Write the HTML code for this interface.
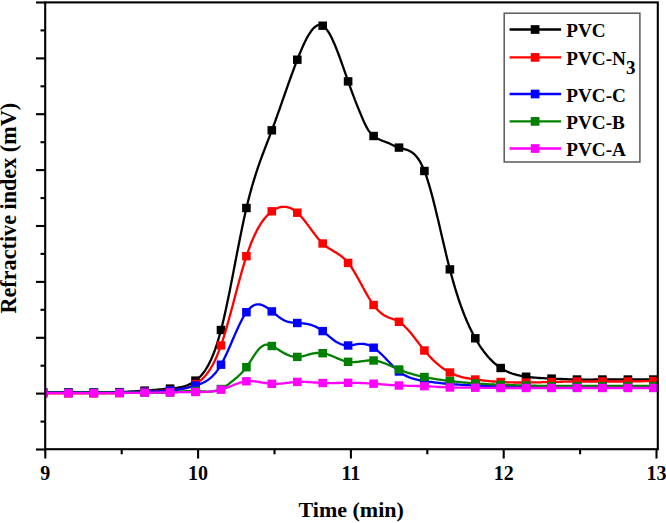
<!DOCTYPE html>
<html><head><meta charset="utf-8"><style>
html,body{margin:0;padding:0;background:#fff;}
body{width:666px;height:523px;overflow:hidden;}
svg{display:block;}
text{font-family:"Liberation Serif",serif;font-weight:bold;fill:#000;}
.tk{font-size:20px;}
.lg{font-size:19.2px;}
.ax{font-size:22px;}
.ay{font-size:22.2px;}
</style></head><body>
<svg width="666" height="523" viewBox="0 0 666 523">
<defs><clipPath id="pc"><rect x="45.2" y="2.4" width="612.5999999999999" height="446.8"/></clipPath></defs>
<g clip-path="url(#pc)">
<polyline points="43.0,392.4 44.0,392.4 45.0,392.4 46.0,392.4 47.0,392.4 48.0,392.4 49.0,392.4 50.0,392.4 51.0,392.4 52.0,392.4 53.0,392.4 54.0,392.4 55.0,392.4 56.0,392.4 57.0,392.4 58.0,392.4 59.0,392.4 60.0,392.4 61.0,392.4 62.0,392.4 63.0,392.4 64.0,392.4 65.0,392.4 66.0,392.4 67.0,392.4 68.0,392.4 69.0,392.4 70.0,392.4 71.0,392.4 72.0,392.4 73.0,392.4 74.0,392.4 75.0,392.4 76.0,392.4 77.0,392.4 78.0,392.4 79.0,392.4 80.0,392.4 81.0,392.4 82.0,392.4 83.0,392.4 84.0,392.4 85.0,392.4 86.0,392.4 87.0,392.4 88.0,392.4 89.0,392.4 90.0,392.4 91.0,392.4 92.0,392.4 93.0,392.4 94.0,392.4 95.0,392.4 96.0,392.4 97.0,392.4 98.0,392.4 99.0,392.4 100.0,392.4 101.0,392.4 102.0,392.4 103.0,392.4 104.0,392.4 105.0,392.4 106.0,392.4 107.0,392.4 108.0,392.3 109.0,392.3 110.0,392.3 111.0,392.3 112.0,392.3 113.0,392.3 114.0,392.2 115.0,392.2 116.0,392.2 117.0,392.2 118.0,392.1 119.0,392.1 120.0,392.1 121.0,392.0 122.0,392.0 123.0,392.0 124.0,391.9 125.0,391.9 126.0,391.8 127.0,391.8 128.0,391.7 129.0,391.6 130.0,391.6 131.0,391.5 132.0,391.5 133.0,391.4 134.0,391.3 135.0,391.3 136.0,391.2 137.0,391.1 138.0,391.1 139.0,391.0 140.0,390.9 141.0,390.9 142.0,390.8 143.0,390.7 144.0,390.7 145.0,390.6 146.0,390.5 147.0,390.4 148.0,390.4 149.0,390.3 150.0,390.2 151.0,390.1 152.0,390.1 153.0,390.0 154.0,389.9 155.0,389.8 156.0,389.8 157.0,389.7 158.0,389.6 159.0,389.5 160.0,389.5 161.0,389.4 162.0,389.3 163.0,389.2 164.0,389.1 165.0,389.0 166.0,389.0 167.0,388.9 168.0,388.8 169.0,388.7 170.0,388.6 171.0,388.5 172.0,388.4 173.0,388.3 174.0,388.2 175.0,388.1 176.0,388.0 177.0,387.8 178.0,387.7 179.0,387.5 180.0,387.3 181.0,387.1 182.0,386.9 183.0,386.6 184.0,386.4 185.0,386.1 186.0,385.7 187.0,385.4 188.0,385.0 189.0,384.5 190.0,384.0 191.0,383.5 192.0,383.0 193.0,382.4 194.0,381.7 195.0,381.0 196.0,380.3 197.0,379.5 198.0,378.6 199.0,377.7 200.0,376.7 201.0,375.7 202.0,374.5 203.0,373.3 204.0,372.0 205.0,370.6 206.0,369.0 207.0,367.4 208.0,365.7 209.0,363.8 210.0,361.8 211.0,359.7 212.0,357.4 213.0,355.0 214.0,352.5 215.0,349.8 216.0,346.9 217.0,343.9 218.0,340.7 219.0,337.3 220.0,333.8 221.0,330.0 222.0,326.1 223.0,322.0 224.0,317.7 225.0,313.3 226.0,308.7 227.0,304.0 228.0,299.2 229.0,294.4 230.0,289.4 231.0,284.3 232.0,279.2 233.0,274.1 234.0,268.9 235.0,263.7 236.0,258.6 237.0,253.4 238.0,248.3 239.0,243.2 240.0,238.1 241.0,233.2 242.0,228.3 243.0,223.5 244.0,218.8 245.0,214.3 246.0,209.9 247.0,205.6 248.0,201.5 249.0,197.6 250.0,193.8 251.0,190.1 252.0,186.5 253.0,183.1 254.0,179.8 255.0,176.6 256.0,173.4 257.0,170.4 258.0,167.4 259.0,164.5 260.0,161.7 261.0,158.9 262.0,156.2 263.0,153.5 264.0,150.9 265.0,148.2 266.0,145.6 267.0,143.0 268.0,140.4 269.0,137.8 270.0,135.2 271.0,132.6 272.0,130.0 273.0,127.3 274.0,124.5 275.0,121.8 276.0,119.0 277.0,116.2 278.0,113.4 279.0,110.6 280.0,107.8 281.0,104.9 282.0,102.0 283.0,99.2 284.0,96.3 285.0,93.5 286.0,90.6 287.0,87.8 288.0,84.9 289.0,82.1 290.0,79.3 291.0,76.5 292.0,73.8 293.0,71.1 294.0,68.4 295.0,65.7 296.0,63.1 297.0,60.5 298.0,57.9 299.0,55.4 300.0,53.0 301.0,50.6 302.0,48.2 303.0,46.0 304.0,43.8 305.0,41.7 306.0,39.7 307.0,37.8 308.0,36.0 309.0,34.3 310.0,32.8 311.0,31.3 312.0,30.0 313.0,28.8 314.0,27.8 315.0,26.9 316.0,26.2 317.0,25.6 318.0,25.2 319.0,24.9 320.0,24.9 321.0,25.0 322.0,25.3 323.0,25.9 324.0,26.6 325.0,27.5 326.0,28.6 327.0,29.9 328.0,31.3 329.0,32.9 330.0,34.6 331.0,36.5 332.0,38.5 333.0,40.7 334.0,42.9 335.0,45.3 336.0,47.7 337.0,50.2 338.0,52.8 339.0,55.5 340.0,58.2 341.0,61.0 342.0,63.8 343.0,66.6 344.0,69.5 345.0,72.3 346.0,75.2 347.0,78.1 348.0,80.9 349.0,83.8 350.0,86.6 351.0,89.4 352.0,92.1 353.0,94.8 354.0,97.4 355.0,100.1 356.0,102.6 357.0,105.1 358.0,107.6 359.0,110.1 360.0,112.5 361.0,114.9 362.0,117.3 363.0,119.6 364.0,121.9 365.0,124.0 366.0,126.0 367.0,127.9 368.0,129.6 369.0,131.1 370.0,132.4 371.0,133.5 372.0,134.6 373.0,135.5 374.0,136.3 375.0,137.1 376.0,137.7 377.0,138.3 378.0,138.9 379.0,139.3 380.0,139.8 381.0,140.2 382.0,140.6 383.0,141.0 384.0,141.3 385.0,141.7 386.0,142.1 387.0,142.5 388.0,142.9 389.0,143.3 390.0,143.8 391.0,144.3 392.0,144.7 393.0,145.2 394.0,145.6 395.0,146.1 396.0,146.5 397.0,146.9 398.0,147.2 399.0,147.6 400.0,147.9 401.0,148.2 402.0,148.5 403.0,148.7 404.0,149.0 405.0,149.3 406.0,149.6 407.0,149.9 408.0,150.3 409.0,150.7 410.0,151.2 411.0,151.8 412.0,152.4 413.0,153.2 414.0,154.0 415.0,154.9 416.0,156.0 417.0,157.2 418.0,158.5 419.0,160.0 420.0,161.6 421.0,163.4 422.0,165.4 423.0,167.5 424.0,169.9 425.0,172.4 426.0,175.2 427.0,178.1 428.0,181.3 429.0,184.6 430.0,188.0 431.0,191.6 432.0,195.3 433.0,199.1 434.0,203.1 435.0,207.1 436.0,211.2 437.0,215.4 438.0,219.6 439.0,223.8 440.0,228.1 441.0,232.4 442.0,236.7 443.0,241.0 444.0,245.3 445.0,249.6 446.0,253.8 447.0,257.9 448.0,262.0 449.0,266.0 450.0,269.9 451.0,273.6 452.0,277.3 453.0,280.9 454.0,284.4 455.0,287.8 456.0,291.1 457.0,294.2 458.0,297.3 459.0,300.3 460.0,303.3 461.0,306.1 462.0,308.8 463.0,311.5 464.0,314.1 465.0,316.6 466.0,319.0 467.0,321.4 468.0,323.6 469.0,325.9 470.0,328.0 471.0,330.1 472.0,332.1 473.0,334.0 474.0,335.9 475.0,337.7 476.0,339.5 477.0,341.2 478.0,342.9 479.0,344.5 480.0,346.1 481.0,347.6 482.0,349.0 483.0,350.4 484.0,351.8 485.0,353.1 486.0,354.3 487.0,355.5 488.0,356.7 489.0,357.8 490.0,358.9 491.0,359.9 492.0,360.9 493.0,361.9 494.0,362.8 495.0,363.7 496.0,364.5 497.0,365.3 498.0,366.1 499.0,366.8 500.0,367.5 501.0,368.2 502.0,368.8 503.0,369.4 504.0,370.0 505.0,370.5 506.0,371.0 507.0,371.5 508.0,371.9 509.0,372.4 510.0,372.8 511.0,373.1 512.0,373.5 513.0,373.8 514.0,374.2 515.0,374.4 516.0,374.7 517.0,375.0 518.0,375.2 519.0,375.4 520.0,375.7 521.0,375.9 522.0,376.0 523.0,376.2 524.0,376.4 525.0,376.5 526.0,376.7 527.0,376.8 528.0,376.9 529.0,377.1 530.0,377.2 531.0,377.3 532.0,377.4 533.0,377.5 534.0,377.6 535.0,377.7 536.0,377.7 537.0,377.8 538.0,377.9 539.0,378.0 540.0,378.0 541.0,378.1 542.0,378.1 543.0,378.2 544.0,378.2 545.0,378.3 546.0,378.3 547.0,378.4 548.0,378.4 549.0,378.5 550.0,378.5 551.0,378.6 552.0,378.6 553.0,378.7 554.0,378.7 555.0,378.7 556.0,378.8 557.0,378.8 558.0,378.9 559.0,378.9 560.0,379.0 561.0,379.0 562.0,379.0 563.0,379.1 564.0,379.1 565.0,379.2 566.0,379.2 567.0,379.2 568.0,379.3 569.0,379.3 570.0,379.3 571.0,379.4 572.0,379.4 573.0,379.4 574.0,379.4 575.0,379.5 576.0,379.5 577.0,379.5 578.0,379.5 579.0,379.5 580.0,379.5 581.0,379.5 582.0,379.6 583.0,379.6 584.0,379.6 585.0,379.6 586.0,379.6 587.0,379.6 588.0,379.6 589.0,379.6 590.0,379.6 591.0,379.6 592.0,379.6 593.0,379.6 594.0,379.5 595.0,379.5 596.0,379.5 597.0,379.5 598.0,379.5 599.0,379.5 600.0,379.5 601.0,379.5 602.0,379.5 603.0,379.5 604.0,379.5 605.0,379.5 606.0,379.5 607.0,379.5 608.0,379.5 609.0,379.5 610.0,379.5 611.0,379.5 612.0,379.5 613.0,379.5 614.0,379.5 615.0,379.5 616.0,379.5 617.0,379.5 618.0,379.5 619.0,379.5 620.0,379.5 621.0,379.5 622.0,379.5 623.0,379.5 624.0,379.5 625.0,379.5 626.0,379.5 627.0,379.5 628.0,379.5 629.0,379.5 630.0,379.5 631.0,379.5 632.0,379.5 633.0,379.5 634.0,379.5 635.0,379.5 636.0,379.5 637.0,379.5 638.0,379.5 639.0,379.5 640.0,379.5 641.0,379.5 642.0,379.5 643.0,379.5 644.0,379.5 645.0,379.5 646.0,379.5 647.0,379.5 648.0,379.5 649.0,379.5 650.0,379.5 651.0,379.5 652.0,379.5 653.0,379.5" fill="none" stroke="#000000" stroke-width="2.3" stroke-linejoin="round"/><g fill="#000000"><rect x="38.7" y="388.2" width="8.6" height="8.4"/><rect x="64.1" y="388.2" width="8.6" height="8.4"/><rect x="89.5" y="388.2" width="8.6" height="8.4"/><rect x="115.0" y="387.9" width="8.6" height="8.4"/><rect x="140.4" y="386.4" width="8.6" height="8.4"/><rect x="165.8" y="384.4" width="8.6" height="8.4"/><rect x="191.2" y="376.4" width="8.6" height="8.4"/><rect x="216.7" y="325.8" width="8.6" height="8.4"/><rect x="242.1" y="203.8" width="8.6" height="8.4"/><rect x="267.5" y="126.1" width="8.6" height="8.4"/><rect x="293.0" y="55.5" width="8.6" height="8.4"/><rect x="318.4" y="21.5" width="8.6" height="8.4"/><rect x="343.8" y="77.2" width="8.6" height="8.4"/><rect x="369.3" y="131.8" width="8.6" height="8.4"/><rect x="394.7" y="143.4" width="8.6" height="8.4"/><rect x="420.1" y="166.8" width="8.6" height="8.4"/><rect x="445.6" y="265.2" width="8.6" height="8.4"/><rect x="471.0" y="334.1" width="8.6" height="8.4"/><rect x="496.4" y="363.8" width="8.6" height="8.4"/><rect x="521.8" y="372.5" width="8.6" height="8.4"/><rect x="547.3" y="374.4" width="8.6" height="8.4"/><rect x="572.7" y="375.3" width="8.6" height="8.4"/><rect x="598.1" y="375.3" width="8.6" height="8.4"/><rect x="623.6" y="375.3" width="8.6" height="8.4"/><rect x="649.0" y="375.3" width="8.6" height="8.4"/></g><polyline points="43.0,393.4 44.0,393.4 45.0,393.4 46.0,393.4 47.0,393.4 48.0,393.4 49.0,393.4 50.0,393.4 51.0,393.4 52.0,393.4 53.0,393.4 54.0,393.4 55.0,393.4 56.0,393.4 57.0,393.4 58.0,393.4 59.0,393.4 60.0,393.4 61.0,393.4 62.0,393.4 63.0,393.4 64.0,393.4 65.0,393.4 66.0,393.4 67.0,393.4 68.0,393.4 69.0,393.4 70.0,393.4 71.0,393.4 72.0,393.4 73.0,393.4 74.0,393.4 75.0,393.4 76.0,393.4 77.0,393.4 78.0,393.4 79.0,393.4 80.0,393.4 81.0,393.4 82.0,393.4 83.0,393.4 84.0,393.4 85.0,393.4 86.0,393.4 87.0,393.4 88.0,393.4 89.0,393.4 90.0,393.4 91.0,393.4 92.0,393.4 93.0,393.4 94.0,393.4 95.0,393.4 96.0,393.4 97.0,393.4 98.0,393.4 99.0,393.4 100.0,393.4 101.0,393.4 102.0,393.4 103.0,393.4 104.0,393.4 105.0,393.4 106.0,393.4 107.0,393.4 108.0,393.4 109.0,393.4 110.0,393.4 111.0,393.3 112.0,393.3 113.0,393.3 114.0,393.3 115.0,393.2 116.0,393.2 117.0,393.2 118.0,393.2 119.0,393.1 120.0,393.1 121.0,393.0 122.0,393.0 123.0,392.9 124.0,392.9 125.0,392.8 126.0,392.7 127.0,392.7 128.0,392.6 129.0,392.6 130.0,392.5 131.0,392.4 132.0,392.3 133.0,392.3 134.0,392.2 135.0,392.1 136.0,392.1 137.0,392.0 138.0,391.9 139.0,391.9 140.0,391.8 141.0,391.7 142.0,391.7 143.0,391.6 144.0,391.5 145.0,391.5 146.0,391.4 147.0,391.4 148.0,391.3 149.0,391.3 150.0,391.2 151.0,391.2 152.0,391.1 153.0,391.1 154.0,391.0 155.0,391.0 156.0,391.0 157.0,390.9 158.0,390.9 159.0,390.8 160.0,390.8 161.0,390.8 162.0,390.7 163.0,390.7 164.0,390.6 165.0,390.6 166.0,390.5 167.0,390.5 168.0,390.4 169.0,390.4 170.0,390.3 171.0,390.2 172.0,390.2 173.0,390.1 174.0,390.0 175.0,390.0 176.0,389.9 177.0,389.8 178.0,389.7 179.0,389.5 180.0,389.4 181.0,389.2 182.0,389.0 183.0,388.8 184.0,388.6 185.0,388.4 186.0,388.1 187.0,387.8 188.0,387.5 189.0,387.1 190.0,386.7 191.0,386.3 192.0,385.9 193.0,385.4 194.0,384.9 195.0,384.3 196.0,383.7 197.0,383.1 198.0,382.4 199.0,381.7 200.0,380.9 201.0,380.1 202.0,379.2 203.0,378.2 204.0,377.2 205.0,376.1 206.0,374.9 207.0,373.6 208.0,372.3 209.0,370.9 210.0,369.3 211.0,367.7 212.0,366.0 213.0,364.2 214.0,362.3 215.0,360.2 216.0,358.1 217.0,355.8 218.0,353.4 219.0,350.9 220.0,348.2 221.0,345.4 222.0,342.5 223.0,339.5 224.0,336.3 225.0,333.0 226.0,329.6 227.0,326.2 228.0,322.6 229.0,319.0 230.0,315.4 231.0,311.7 232.0,307.9 233.0,304.2 234.0,300.4 235.0,296.6 236.0,292.8 237.0,289.1 238.0,285.3 239.0,281.6 240.0,278.0 241.0,274.4 242.0,270.8 243.0,267.4 244.0,264.0 245.0,260.7 246.0,257.6 247.0,254.5 248.0,251.6 249.0,248.8 250.0,246.1 251.0,243.5 252.0,241.0 253.0,238.7 254.0,236.4 255.0,234.3 256.0,232.2 257.0,230.3 258.0,228.4 259.0,226.7 260.0,225.0 261.0,223.4 262.0,221.9 263.0,220.5 264.0,219.2 265.0,217.9 266.0,216.8 267.0,215.7 268.0,214.6 269.0,213.7 270.0,212.8 271.0,212.0 272.0,211.2 273.0,210.5 274.0,209.9 275.0,209.3 276.0,208.7 277.0,208.3 278.0,207.9 279.0,207.5 280.0,207.2 281.0,207.0 282.0,206.9 283.0,206.8 284.0,206.8 285.0,206.8 286.0,206.9 287.0,207.1 288.0,207.3 289.0,207.6 290.0,208.0 291.0,208.4 292.0,208.9 293.0,209.5 294.0,210.1 295.0,210.8 296.0,211.6 297.0,212.4 298.0,213.3 299.0,214.3 300.0,215.4 301.0,216.5 302.0,217.6 303.0,218.8 304.0,220.0 305.0,221.3 306.0,222.6 307.0,223.9 308.0,225.2 309.0,226.6 310.0,227.9 311.0,229.3 312.0,230.6 313.0,232.0 314.0,233.3 315.0,234.6 316.0,235.9 317.0,237.2 318.0,238.4 319.0,239.6 320.0,240.7 321.0,241.8 322.0,242.8 323.0,243.8 324.0,244.7 325.0,245.5 326.0,246.3 327.0,247.0 328.0,247.7 329.0,248.4 330.0,249.0 331.0,249.6 332.0,250.2 333.0,250.8 334.0,251.4 335.0,252.0 336.0,252.6 337.0,253.2 338.0,253.9 339.0,254.5 340.0,255.2 341.0,256.0 342.0,256.7 343.0,257.6 344.0,258.5 345.0,259.4 346.0,260.4 347.0,261.5 348.0,262.7 349.0,264.0 350.0,265.3 351.0,266.7 352.0,268.2 353.0,269.8 354.0,271.4 355.0,273.1 356.0,274.8 357.0,276.6 358.0,278.3 359.0,280.1 360.0,282.0 361.0,283.8 362.0,285.6 363.0,287.5 364.0,289.3 365.0,291.1 366.0,292.9 367.0,294.6 368.0,296.3 369.0,298.0 370.0,299.7 371.0,301.2 372.0,302.7 373.0,304.2 374.0,305.6 375.0,306.8 376.0,308.1 377.0,309.2 378.0,310.3 379.0,311.2 380.0,312.2 381.0,313.0 382.0,313.8 383.0,314.5 384.0,315.2 385.0,315.8 386.0,316.3 387.0,316.8 388.0,317.3 389.0,317.7 390.0,318.0 391.0,318.4 392.0,318.7 393.0,319.1 394.0,319.4 395.0,319.8 396.0,320.2 397.0,320.7 398.0,321.2 399.0,321.8 400.0,322.4 401.0,323.2 402.0,323.9 403.0,324.8 404.0,325.7 405.0,326.7 406.0,327.7 407.0,328.7 408.0,329.8 409.0,331.0 410.0,332.1 411.0,333.3 412.0,334.6 413.0,335.8 414.0,337.1 415.0,338.4 416.0,339.7 417.0,341.0 418.0,342.3 419.0,343.6 420.0,344.9 421.0,346.2 422.0,347.5 423.0,348.7 424.0,350.0 425.0,351.2 426.0,352.3 427.0,353.5 428.0,354.6 429.0,355.7 430.0,356.8 431.0,357.9 432.0,358.9 433.0,359.9 434.0,360.8 435.0,361.8 436.0,362.7 437.0,363.6 438.0,364.4 439.0,365.2 440.0,366.1 441.0,366.8 442.0,367.6 443.0,368.3 444.0,369.0 445.0,369.6 446.0,370.3 447.0,370.9 448.0,371.5 449.0,372.0 450.0,372.6 451.0,373.1 452.0,373.5 453.0,374.0 454.0,374.4 455.0,374.8 456.0,375.2 457.0,375.6 458.0,375.9 459.0,376.2 460.0,376.5 461.0,376.8 462.0,377.1 463.0,377.3 464.0,377.5 465.0,377.8 466.0,378.0 467.0,378.2 468.0,378.4 469.0,378.5 470.0,378.7 471.0,378.9 472.0,379.0 473.0,379.2 474.0,379.3 475.0,379.5 476.0,379.6 477.0,379.7 478.0,379.9 479.0,380.0 480.0,380.1 481.0,380.2 482.0,380.4 483.0,380.5 484.0,380.6 485.0,380.7 486.0,380.8 487.0,380.9 488.0,381.0 489.0,381.1 490.0,381.2 491.0,381.3 492.0,381.4 493.0,381.5 494.0,381.5 495.0,381.6 496.0,381.7 497.0,381.8 498.0,381.8 499.0,381.9 500.0,382.0 501.0,382.0 502.0,382.1 503.0,382.1 504.0,382.2 505.0,382.2 506.0,382.2 507.0,382.3 508.0,382.3 509.0,382.3 510.0,382.4 511.0,382.4 512.0,382.4 513.0,382.4 514.0,382.5 515.0,382.5 516.0,382.5 517.0,382.5 518.0,382.5 519.0,382.5 520.0,382.5 521.0,382.5 522.0,382.5 523.0,382.5 524.0,382.5 525.0,382.5 526.0,382.5 527.0,382.5 528.0,382.5 529.0,382.5 530.0,382.5 531.0,382.4 532.0,382.4 533.0,382.4 534.0,382.4 535.0,382.4 536.0,382.4 537.0,382.3 538.0,382.3 539.0,382.3 540.0,382.3 541.0,382.3 542.0,382.2 543.0,382.2 544.0,382.2 545.0,382.2 546.0,382.1 547.0,382.1 548.0,382.1 549.0,382.1 550.0,382.0 551.0,382.0 552.0,382.0 553.0,382.0 554.0,381.9 555.0,381.9 556.0,381.9 557.0,381.9 558.0,381.8 559.0,381.8 560.0,381.8 561.0,381.8 562.0,381.8 563.0,381.7 564.0,381.7 565.0,381.7 566.0,381.7 567.0,381.6 568.0,381.6 569.0,381.6 570.0,381.6 571.0,381.6 572.0,381.6 573.0,381.5 574.0,381.5 575.0,381.5 576.0,381.5 577.0,381.5 578.0,381.5 579.0,381.5 580.0,381.5 581.0,381.5 582.0,381.5 583.0,381.5 584.0,381.5 585.0,381.5 586.0,381.5 587.0,381.5 588.0,381.5 589.0,381.5 590.0,381.5 591.0,381.5 592.0,381.5 593.0,381.5 594.0,381.5 595.0,381.5 596.0,381.5 597.0,381.5 598.0,381.5 599.0,381.5 600.0,381.5 601.0,381.5 602.0,381.5 603.0,381.5 604.0,381.5 605.0,381.5 606.0,381.5 607.0,381.5 608.0,381.5 609.0,381.5 610.0,381.5 611.0,381.5 612.0,381.5 613.0,381.5 614.0,381.5 615.0,381.5 616.0,381.5 617.0,381.5 618.0,381.5 619.0,381.5 620.0,381.5 621.0,381.5 622.0,381.5 623.0,381.5 624.0,381.5 625.0,381.5 626.0,381.5 627.0,381.5 628.0,381.5 629.0,381.5 630.0,381.5 631.0,381.5 632.0,381.5 633.0,381.4 634.0,381.4 635.0,381.4 636.0,381.4 637.0,381.4 638.0,381.3 639.0,381.3 640.0,381.3 641.0,381.3 642.0,381.3 643.0,381.2 644.0,381.2 645.0,381.2 646.0,381.2 647.0,381.2 648.0,381.1 649.0,381.1 650.0,381.1 651.0,381.1 652.0,381.0 653.0,381.0" fill="none" stroke="#ff0000" stroke-width="2.3" stroke-linejoin="round"/><g fill="#ff0000"><rect x="38.7" y="389.2" width="8.6" height="8.4"/><rect x="64.1" y="389.2" width="8.6" height="8.4"/><rect x="89.5" y="389.2" width="8.6" height="8.4"/><rect x="115.0" y="388.9" width="8.6" height="8.4"/><rect x="140.4" y="387.3" width="8.6" height="8.4"/><rect x="165.8" y="386.1" width="8.6" height="8.4"/><rect x="191.2" y="379.8" width="8.6" height="8.4"/><rect x="216.7" y="341.2" width="8.6" height="8.4"/><rect x="242.1" y="252.0" width="8.6" height="8.4"/><rect x="267.5" y="207.1" width="8.6" height="8.4"/><rect x="293.0" y="208.5" width="8.6" height="8.4"/><rect x="318.4" y="239.3" width="8.6" height="8.4"/><rect x="343.8" y="258.7" width="8.6" height="8.4"/><rect x="369.3" y="300.8" width="8.6" height="8.4"/><rect x="394.7" y="317.6" width="8.6" height="8.4"/><rect x="420.1" y="346.3" width="8.6" height="8.4"/><rect x="445.6" y="368.3" width="8.6" height="8.4"/><rect x="471.0" y="375.3" width="8.6" height="8.4"/><rect x="496.4" y="377.8" width="8.6" height="8.4"/><rect x="521.8" y="378.3" width="8.6" height="8.4"/><rect x="547.3" y="377.8" width="8.6" height="8.4"/><rect x="572.7" y="377.3" width="8.6" height="8.4"/><rect x="598.1" y="377.3" width="8.6" height="8.4"/><rect x="623.6" y="377.3" width="8.6" height="8.4"/><rect x="649.0" y="376.8" width="8.6" height="8.4"/></g><polyline points="43.0,392.6 44.0,392.6 45.0,392.6 46.0,392.6 47.0,392.6 48.0,392.6 49.0,392.6 50.0,392.6 51.0,392.6 52.0,392.6 53.0,392.6 54.0,392.6 55.0,392.6 56.0,392.6 57.0,392.6 58.0,392.6 59.0,392.6 60.0,392.6 61.0,392.6 62.0,392.6 63.0,392.6 64.0,392.6 65.0,392.6 66.0,392.6 67.0,392.6 68.0,392.6 69.0,392.6 70.0,392.6 71.0,392.6 72.0,392.6 73.0,392.6 74.0,392.6 75.0,392.6 76.0,392.6 77.0,392.6 78.0,392.6 79.0,392.6 80.0,392.6 81.0,392.6 82.0,392.6 83.0,392.6 84.0,392.6 85.0,392.6 86.0,392.6 87.0,392.6 88.0,392.6 89.0,392.6 90.0,392.6 91.0,392.6 92.0,392.6 93.0,392.6 94.0,392.6 95.0,392.6 96.0,392.6 97.0,392.6 98.0,392.6 99.0,392.6 100.0,392.6 101.0,392.6 102.0,392.6 103.0,392.6 104.0,392.6 105.0,392.6 106.0,392.6 107.0,392.6 108.0,392.6 109.0,392.6 110.0,392.6 111.0,392.6 112.0,392.6 113.0,392.6 114.0,392.6 115.0,392.6 116.0,392.6 117.0,392.5 118.0,392.5 119.0,392.5 120.0,392.5 121.0,392.5 122.0,392.4 123.0,392.4 124.0,392.4 125.0,392.4 126.0,392.3 127.0,392.3 128.0,392.3 129.0,392.2 130.0,392.2 131.0,392.2 132.0,392.1 133.0,392.1 134.0,392.1 135.0,392.0 136.0,392.0 137.0,392.0 138.0,391.9 139.0,391.9 140.0,391.8 141.0,391.8 142.0,391.8 143.0,391.8 144.0,391.7 145.0,391.7 146.0,391.7 147.0,391.6 148.0,391.6 149.0,391.6 150.0,391.6 151.0,391.5 152.0,391.5 153.0,391.5 154.0,391.4 155.0,391.4 156.0,391.4 157.0,391.3 158.0,391.3 159.0,391.3 160.0,391.2 161.0,391.2 162.0,391.1 163.0,391.1 164.0,391.0 165.0,390.9 166.0,390.9 167.0,390.8 168.0,390.7 169.0,390.6 170.0,390.5 171.0,390.4 172.0,390.3 173.0,390.2 174.0,390.1 175.0,389.9 176.0,389.8 177.0,389.6 178.0,389.5 179.0,389.3 180.0,389.2 181.0,389.0 182.0,388.8 183.0,388.6 184.0,388.4 185.0,388.2 186.0,388.0 187.0,387.8 188.0,387.5 189.0,387.3 190.0,387.0 191.0,386.8 192.0,386.5 193.0,386.2 194.0,386.0 195.0,385.7 196.0,385.4 197.0,385.1 198.0,384.7 199.0,384.4 200.0,384.0 201.0,383.6 202.0,383.2 203.0,382.8 204.0,382.3 205.0,381.7 206.0,381.2 207.0,380.6 208.0,379.9 209.0,379.2 210.0,378.4 211.0,377.5 212.0,376.6 213.0,375.6 214.0,374.5 215.0,373.4 216.0,372.2 217.0,370.9 218.0,369.5 219.0,368.0 220.0,366.4 221.0,364.7 222.0,362.9 223.0,361.0 224.0,359.1 225.0,357.0 226.0,354.9 227.0,352.7 228.0,350.5 229.0,348.3 230.0,346.0 231.0,343.7 232.0,341.3 233.0,339.0 234.0,336.7 235.0,334.4 236.0,332.1 237.0,329.9 238.0,327.7 239.0,325.5 240.0,323.5 241.0,321.5 242.0,319.5 243.0,317.7 244.0,316.0 245.0,314.3 246.0,312.8 247.0,311.4 248.0,310.2 249.0,309.1 250.0,308.1 251.0,307.2 252.0,306.5 253.0,305.8 254.0,305.3 255.0,304.9 256.0,304.6 257.0,304.4 258.0,304.4 259.0,304.4 260.0,304.5 261.0,304.7 262.0,305.1 263.0,305.5 264.0,305.9 265.0,306.5 266.0,307.1 267.0,307.7 268.0,308.4 269.0,309.1 270.0,309.9 271.0,310.7 272.0,311.5 273.0,312.3 274.0,313.1 275.0,313.9 276.0,314.8 277.0,315.5 278.0,316.3 279.0,317.1 280.0,317.8 281.0,318.5 282.0,319.1 283.0,319.7 284.0,320.2 285.0,320.7 286.0,321.1 287.0,321.5 288.0,321.8 289.0,322.0 290.0,322.2 291.0,322.4 292.0,322.6 293.0,322.7 294.0,322.8 295.0,322.9 296.0,322.9 297.0,323.0 298.0,323.0 299.0,323.1 300.0,323.2 301.0,323.2 302.0,323.3 303.0,323.4 304.0,323.5 305.0,323.6 306.0,323.8 307.0,323.9 308.0,324.1 309.0,324.3 310.0,324.6 311.0,324.9 312.0,325.2 313.0,325.6 314.0,326.0 315.0,326.4 316.0,326.9 317.0,327.4 318.0,328.0 319.0,328.6 320.0,329.2 321.0,329.9 322.0,330.6 323.0,331.3 324.0,332.1 325.0,332.9 326.0,333.7 327.0,334.6 328.0,335.4 329.0,336.3 330.0,337.1 331.0,337.9 332.0,338.8 333.0,339.5 334.0,340.3 335.0,341.0 336.0,341.7 337.0,342.3 338.0,342.8 339.0,343.3 340.0,343.8 341.0,344.2 342.0,344.5 343.0,344.8 344.0,345.1 345.0,345.3 346.0,345.4 347.0,345.5 348.0,345.5 349.0,345.5 350.0,345.4 351.0,345.3 352.0,345.1 353.0,345.0 354.0,344.8 355.0,344.6 356.0,344.4 357.0,344.2 358.0,344.1 359.0,343.9 360.0,343.8 361.0,343.8 362.0,343.8 363.0,343.9 364.0,344.0 365.0,344.1 366.0,344.3 367.0,344.6 368.0,344.9 369.0,345.3 370.0,345.7 371.0,346.2 372.0,346.7 373.0,347.3 374.0,348.0 375.0,348.7 376.0,349.4 377.0,350.2 378.0,351.1 379.0,352.0 380.0,352.9 381.0,353.8 382.0,354.8 383.0,355.8 384.0,356.8 385.0,357.8 386.0,358.9 387.0,359.9 388.0,361.0 389.0,362.0 390.0,363.1 391.0,364.1 392.0,365.1 393.0,366.1 394.0,367.1 395.0,368.0 396.0,369.0 397.0,369.8 398.0,370.7 399.0,371.5 400.0,372.2 401.0,373.0 402.0,373.6 403.0,374.3 404.0,374.8 405.0,375.4 406.0,375.9 407.0,376.4 408.0,376.8 409.0,377.3 410.0,377.6 411.0,378.0 412.0,378.3 413.0,378.6 414.0,378.9 415.0,379.2 416.0,379.4 417.0,379.7 418.0,379.9 419.0,380.1 420.0,380.3 421.0,380.4 422.0,380.6 423.0,380.8 424.0,380.9 425.0,381.1 426.0,381.2 427.0,381.4 428.0,381.5 429.0,381.7 430.0,381.8 431.0,381.9 432.0,382.1 433.0,382.2 434.0,382.3 435.0,382.5 436.0,382.6 437.0,382.7 438.0,382.8 439.0,382.9 440.0,383.0 441.0,383.2 442.0,383.3 443.0,383.4 444.0,383.5 445.0,383.6 446.0,383.7 447.0,383.7 448.0,383.8 449.0,383.9 450.0,384.0 451.0,384.1 452.0,384.2 453.0,384.2 454.0,384.3 455.0,384.4 456.0,384.5 457.0,384.5 458.0,384.6 459.0,384.7 460.0,384.7 461.0,384.8 462.0,384.8 463.0,384.9 464.0,384.9 465.0,385.0 466.0,385.1 467.0,385.1 468.0,385.2 469.0,385.2 470.0,385.3 471.0,385.3 472.0,385.3 473.0,385.4 474.0,385.4 475.0,385.5 476.0,385.5 477.0,385.6 478.0,385.6 479.0,385.7 480.0,385.7 481.0,385.8 482.0,385.8 483.0,385.8 484.0,385.9 485.0,385.9 486.0,386.0 487.0,386.0 488.0,386.0 489.0,386.1 490.0,386.1 491.0,386.2 492.0,386.2 493.0,386.2 494.0,386.3 495.0,386.3 496.0,386.3 497.0,386.4 498.0,386.4 499.0,386.4 500.0,386.5 501.0,386.5 502.0,386.5 503.0,386.6 504.0,386.6 505.0,386.6 506.0,386.7 507.0,386.7 508.0,386.7 509.0,386.7 510.0,386.8 511.0,386.8 512.0,386.8 513.0,386.8 514.0,386.8 515.0,386.9 516.0,386.9 517.0,386.9 518.0,386.9 519.0,386.9 520.0,386.9 521.0,386.9 522.0,387.0 523.0,387.0 524.0,387.0 525.0,387.0 526.0,387.0 527.0,387.0 528.0,387.0 529.0,387.0 530.0,387.0 531.0,387.0 532.0,387.0 533.0,387.0 534.0,387.0 535.0,387.0 536.0,387.0 537.0,387.0 538.0,387.0 539.0,387.0 540.0,387.0 541.0,387.0 542.0,387.0 543.0,387.0 544.0,387.0 545.0,387.0 546.0,387.0 547.0,387.0 548.0,387.0 549.0,387.0 550.0,387.0 551.0,387.0 552.0,387.0 553.0,387.0 554.0,387.0 555.0,387.0 556.0,387.0 557.0,387.0 558.0,387.0 559.0,387.0 560.0,387.0 561.0,387.0 562.0,387.0 563.0,387.0 564.0,387.0 565.0,387.0 566.0,387.0 567.0,387.0 568.0,387.0 569.0,387.0 570.0,387.0 571.0,387.0 572.0,387.0 573.0,387.0 574.0,387.0 575.0,387.0 576.0,387.0 577.0,387.0 578.0,387.0 579.0,387.0 580.0,387.0 581.0,387.0 582.0,387.0 583.0,387.0 584.0,387.0 585.0,387.0 586.0,387.0 587.0,387.0 588.0,387.0 589.0,387.0 590.0,387.0 591.0,387.0 592.0,387.0 593.0,387.0 594.0,387.0 595.0,387.0 596.0,387.0 597.0,387.0 598.0,387.0 599.0,387.0 600.0,387.0 601.0,387.0 602.0,387.0 603.0,387.0 604.0,387.0 605.0,387.0 606.0,387.0 607.0,387.0 608.0,387.0 609.0,387.0 610.0,387.0 611.0,387.0 612.0,387.0 613.0,387.0 614.0,387.0 615.0,387.0 616.0,387.0 617.0,387.0 618.0,387.0 619.0,387.0 620.0,387.0 621.0,387.0 622.0,387.0 623.0,387.0 624.0,387.0 625.0,387.0 626.0,387.0 627.0,387.0 628.0,387.0 629.0,387.0 630.0,387.0 631.0,387.0 632.0,387.0 633.0,387.0 634.0,387.0 635.0,387.0 636.0,387.0 637.0,387.0 638.0,387.0 639.0,387.0 640.0,387.0 641.0,387.0 642.0,387.0 643.0,387.0 644.0,387.0 645.0,387.0 646.0,387.0 647.0,387.0 648.0,387.0 649.0,387.0 650.0,387.0 651.0,387.0 652.0,387.0 653.0,387.0" fill="none" stroke="#0000ff" stroke-width="2.3" stroke-linejoin="round"/><g fill="#0000ff"><rect x="38.7" y="388.4" width="8.6" height="8.4"/><rect x="64.1" y="388.4" width="8.6" height="8.4"/><rect x="89.5" y="388.4" width="8.6" height="8.4"/><rect x="115.0" y="388.3" width="8.6" height="8.4"/><rect x="140.4" y="387.5" width="8.6" height="8.4"/><rect x="165.8" y="386.3" width="8.6" height="8.4"/><rect x="191.2" y="381.3" width="8.6" height="8.4"/><rect x="216.7" y="360.5" width="8.6" height="8.4"/><rect x="242.1" y="308.0" width="8.6" height="8.4"/><rect x="267.5" y="307.2" width="8.6" height="8.4"/><rect x="293.0" y="318.8" width="8.6" height="8.4"/><rect x="318.4" y="326.9" width="8.6" height="8.4"/><rect x="343.8" y="341.3" width="8.6" height="8.4"/><rect x="369.3" y="343.5" width="8.6" height="8.4"/><rect x="394.7" y="367.3" width="8.6" height="8.4"/><rect x="420.1" y="376.8" width="8.6" height="8.4"/><rect x="445.6" y="379.8" width="8.6" height="8.4"/><rect x="471.0" y="381.3" width="8.6" height="8.4"/><rect x="496.4" y="382.3" width="8.6" height="8.4"/><rect x="521.8" y="382.8" width="8.6" height="8.4"/><rect x="547.3" y="382.8" width="8.6" height="8.4"/><rect x="572.7" y="382.8" width="8.6" height="8.4"/><rect x="598.1" y="382.8" width="8.6" height="8.4"/><rect x="623.6" y="382.8" width="8.6" height="8.4"/><rect x="649.0" y="382.8" width="8.6" height="8.4"/></g><polyline points="43.0,392.8 44.0,392.8 45.0,392.8 46.0,392.8 47.0,392.8 48.0,392.8 49.0,392.8 50.0,392.8 51.0,392.8 52.0,392.8 53.0,392.8 54.0,392.8 55.0,392.8 56.0,392.8 57.0,392.8 58.0,392.8 59.0,392.8 60.0,392.8 61.0,392.8 62.0,392.8 63.0,392.8 64.0,392.8 65.0,392.8 66.0,392.8 67.0,392.8 68.0,392.8 69.0,392.8 70.0,392.8 71.0,392.8 72.0,392.8 73.0,392.8 74.0,392.8 75.0,392.8 76.0,392.8 77.0,392.8 78.0,392.8 79.0,392.8 80.0,392.8 81.0,392.8 82.0,392.8 83.0,392.8 84.0,392.8 85.0,392.8 86.0,392.8 87.0,392.8 88.0,392.8 89.0,392.8 90.0,392.8 91.0,392.8 92.0,392.8 93.0,392.8 94.0,392.8 95.0,392.8 96.0,392.8 97.0,392.8 98.0,392.8 99.0,392.8 100.0,392.8 101.0,392.8 102.0,392.8 103.0,392.8 104.0,392.8 105.0,392.8 106.0,392.8 107.0,392.8 108.0,392.8 109.0,392.8 110.0,392.8 111.0,392.8 112.0,392.8 113.0,392.8 114.0,392.8 115.0,392.8 116.0,392.8 117.0,392.8 118.0,392.8 119.0,392.8 120.0,392.8 121.0,392.8 122.0,392.8 123.0,392.8 124.0,392.8 125.0,392.8 126.0,392.8 127.0,392.7 128.0,392.7 129.0,392.7 130.0,392.7 131.0,392.7 132.0,392.7 133.0,392.7 134.0,392.7 135.0,392.7 136.0,392.7 137.0,392.7 138.0,392.7 139.0,392.7 140.0,392.7 141.0,392.7 142.0,392.7 143.0,392.7 144.0,392.7 145.0,392.7 146.0,392.7 147.0,392.7 148.0,392.7 149.0,392.7 150.0,392.8 151.0,392.8 152.0,392.8 153.0,392.8 154.0,392.8 155.0,392.8 156.0,392.8 157.0,392.8 158.0,392.8 159.0,392.8 160.0,392.8 161.0,392.8 162.0,392.8 163.0,392.8 164.0,392.7 165.0,392.7 166.0,392.7 167.0,392.7 168.0,392.6 169.0,392.6 170.0,392.5 171.0,392.4 172.0,392.4 173.0,392.3 174.0,392.2 175.0,392.1 176.0,392.1 177.0,392.0 178.0,391.9 179.0,391.8 180.0,391.7 181.0,391.6 182.0,391.5 183.0,391.5 184.0,391.4 185.0,391.3 186.0,391.2 187.0,391.2 188.0,391.1 189.0,391.1 190.0,391.0 191.0,391.0 192.0,391.0 193.0,391.0 194.0,391.0 195.0,391.0 196.0,391.0 197.0,391.1 198.0,391.1 199.0,391.2 200.0,391.2 201.0,391.3 202.0,391.4 203.0,391.4 204.0,391.5 205.0,391.5 206.0,391.6 207.0,391.6 208.0,391.6 209.0,391.6 210.0,391.6 211.0,391.5 212.0,391.4 213.0,391.3 214.0,391.2 215.0,391.0 216.0,390.8 217.0,390.5 218.0,390.2 219.0,389.9 220.0,389.5 221.0,389.0 222.0,388.5 223.0,387.9 224.0,387.3 225.0,386.7 226.0,386.0 227.0,385.3 228.0,384.6 229.0,383.8 230.0,383.0 231.0,382.2 232.0,381.4 233.0,380.6 234.0,379.8 235.0,378.9 236.0,378.1 237.0,377.3 238.0,376.4 239.0,375.5 240.0,374.5 241.0,373.6 242.0,372.5 243.0,371.4 244.0,370.3 245.0,369.1 246.0,367.8 247.0,366.4 248.0,365.0 249.0,363.5 250.0,361.9 251.0,360.4 252.0,358.8 253.0,357.2 254.0,355.7 255.0,354.2 256.0,352.7 257.0,351.4 258.0,350.1 259.0,349.0 260.0,347.9 261.0,347.1 262.0,346.3 263.0,345.7 264.0,345.2 265.0,344.9 266.0,344.7 267.0,344.7 268.0,344.8 269.0,345.0 270.0,345.3 271.0,345.6 272.0,346.1 273.0,346.5 274.0,347.1 275.0,347.6 276.0,348.2 277.0,348.8 278.0,349.4 279.0,350.0 280.0,350.7 281.0,351.3 282.0,351.9 283.0,352.5 284.0,353.1 285.0,353.6 286.0,354.1 287.0,354.6 288.0,355.0 289.0,355.4 290.0,355.8 291.0,356.1 292.0,356.3 293.0,356.5 294.0,356.7 295.0,356.8 296.0,356.9 297.0,356.9 298.0,356.9 299.0,356.8 300.0,356.7 301.0,356.5 302.0,356.3 303.0,356.1 304.0,355.8 305.0,355.6 306.0,355.3 307.0,355.0 308.0,354.7 309.0,354.5 310.0,354.2 311.0,354.0 312.0,353.7 313.0,353.5 314.0,353.4 315.0,353.2 316.0,353.1 317.0,353.0 318.0,353.0 319.0,352.9 320.0,353.0 321.0,353.0 322.0,353.1 323.0,353.2 324.0,353.4 325.0,353.6 326.0,353.9 327.0,354.2 328.0,354.5 329.0,354.9 330.0,355.2 331.0,355.6 332.0,356.0 333.0,356.4 334.0,356.8 335.0,357.3 336.0,357.7 337.0,358.1 338.0,358.6 339.0,359.0 340.0,359.4 341.0,359.8 342.0,360.1 343.0,360.5 344.0,360.8 345.0,361.1 346.0,361.4 347.0,361.6 348.0,361.8 349.0,361.9 350.0,362.0 351.0,362.1 352.0,362.1 353.0,362.1 354.0,362.1 355.0,362.0 356.0,362.0 357.0,361.9 358.0,361.8 359.0,361.6 360.0,361.5 361.0,361.4 362.0,361.2 363.0,361.1 364.0,361.0 365.0,360.8 366.0,360.7 367.0,360.6 368.0,360.5 369.0,360.5 370.0,360.4 371.0,360.4 372.0,360.4 373.0,360.5 374.0,360.5 375.0,360.7 376.0,360.8 377.0,361.0 378.0,361.2 379.0,361.5 380.0,361.7 381.0,362.0 382.0,362.3 383.0,362.7 384.0,363.1 385.0,363.4 386.0,363.8 387.0,364.2 388.0,364.7 389.0,365.1 390.0,365.5 391.0,366.0 392.0,366.4 393.0,366.9 394.0,367.3 395.0,367.8 396.0,368.2 397.0,368.6 398.0,369.1 399.0,369.5 400.0,369.9 401.0,370.3 402.0,370.7 403.0,371.1 404.0,371.4 405.0,371.8 406.0,372.1 407.0,372.5 408.0,372.8 409.0,373.1 410.0,373.4 411.0,373.7 412.0,374.0 413.0,374.3 414.0,374.5 415.0,374.8 416.0,375.1 417.0,375.3 418.0,375.6 419.0,375.8 420.0,376.0 421.0,376.3 422.0,376.5 423.0,376.7 424.0,376.9 425.0,377.1 426.0,377.3 427.0,377.5 428.0,377.7 429.0,377.9 430.0,378.1 431.0,378.3 432.0,378.4 433.0,378.6 434.0,378.8 435.0,378.9 436.0,379.1 437.0,379.3 438.0,379.4 439.0,379.6 440.0,379.7 441.0,379.8 442.0,380.0 443.0,380.1 444.0,380.3 445.0,380.4 446.0,380.5 447.0,380.6 448.0,380.8 449.0,380.9 450.0,381.0 451.0,381.1 452.0,381.2 453.0,381.4 454.0,381.5 455.0,381.6 456.0,381.7 457.0,381.8 458.0,381.9 459.0,382.0 460.0,382.1 461.0,382.2 462.0,382.3 463.0,382.4 464.0,382.5 465.0,382.6 466.0,382.7 467.0,382.7 468.0,382.8 469.0,382.9 470.0,383.0 471.0,383.1 472.0,383.2 473.0,383.2 474.0,383.3 475.0,383.4 476.0,383.4 477.0,383.5 478.0,383.6 479.0,383.7 480.0,383.7 481.0,383.8 482.0,383.9 483.0,383.9 484.0,384.0 485.0,384.0 486.0,384.1 487.0,384.2 488.0,384.2 489.0,384.3 490.0,384.3 491.0,384.4 492.0,384.4 493.0,384.5 494.0,384.5 495.0,384.6 496.0,384.6 497.0,384.6 498.0,384.7 499.0,384.7 500.0,384.8 501.0,384.8 502.0,384.8 503.0,384.9 504.0,384.9 505.0,385.0 506.0,385.0 507.0,385.0 508.0,385.0 509.0,385.1 510.0,385.1 511.0,385.1 512.0,385.2 513.0,385.2 514.0,385.2 515.0,385.2 516.0,385.3 517.0,385.3 518.0,385.3 519.0,385.3 520.0,385.4 521.0,385.4 522.0,385.4 523.0,385.4 524.0,385.4 525.0,385.5 526.0,385.5 527.0,385.5 528.0,385.5 529.0,385.6 530.0,385.6 531.0,385.6 532.0,385.6 533.0,385.7 534.0,385.7 535.0,385.7 536.0,385.7 537.0,385.8 538.0,385.8 539.0,385.8 540.0,385.8 541.0,385.8 542.0,385.9 543.0,385.9 544.0,385.9 545.0,385.9 546.0,385.9 547.0,385.9 548.0,386.0 549.0,386.0 550.0,386.0 551.0,386.0 552.0,386.0 553.0,386.0 554.0,386.0 555.0,386.0 556.0,386.0 557.0,386.0 558.0,386.0 559.0,386.0 560.0,386.0 561.0,386.0 562.0,386.0 563.0,386.0 564.0,386.0 565.0,386.0 566.0,386.0 567.0,386.0 568.0,386.0 569.0,386.0 570.0,386.0 571.0,386.0 572.0,386.0 573.0,386.0 574.0,386.0 575.0,386.0 576.0,386.0 577.0,386.0 578.0,386.0 579.0,386.0 580.0,386.0 581.0,386.0 582.0,386.0 583.0,386.0 584.0,386.0 585.0,386.0 586.0,386.0 587.0,386.0 588.0,386.0 589.0,386.0 590.0,386.0 591.0,386.0 592.0,386.0 593.0,386.0 594.0,386.0 595.0,386.0 596.0,386.0 597.0,386.0 598.0,386.0 599.0,386.0 600.0,386.0 601.0,386.0 602.0,386.0 603.0,386.0 604.0,386.0 605.0,386.0 606.0,386.0 607.0,386.0 608.0,386.0 609.0,386.0 610.0,386.0 611.0,386.0 612.0,386.0 613.0,386.0 614.0,386.0 615.0,386.0 616.0,386.0 617.0,386.0 618.0,386.0 619.0,386.0 620.0,386.0 621.0,386.0 622.0,386.0 623.0,386.0 624.0,386.0 625.0,386.0 626.0,386.0 627.0,386.0 628.0,386.0 629.0,386.0 630.0,386.0 631.0,386.0 632.0,386.0 633.0,386.0 634.0,386.0 635.0,386.0 636.0,386.0 637.0,386.0 638.0,386.0 639.0,386.0 640.0,386.0 641.0,386.0 642.0,386.0 643.0,386.0 644.0,386.0 645.0,386.0 646.0,386.0 647.0,386.0 648.0,386.0 649.0,386.0 650.0,386.0 651.0,386.0 652.0,386.0 653.0,386.0" fill="none" stroke="#008000" stroke-width="2.3" stroke-linejoin="round"/><g fill="#008000"><rect x="38.7" y="388.6" width="8.6" height="8.4"/><rect x="64.1" y="388.6" width="8.6" height="8.4"/><rect x="89.5" y="388.6" width="8.6" height="8.4"/><rect x="115.0" y="388.6" width="8.6" height="8.4"/><rect x="140.4" y="388.5" width="8.6" height="8.4"/><rect x="165.8" y="388.3" width="8.6" height="8.4"/><rect x="191.2" y="386.8" width="8.6" height="8.4"/><rect x="216.7" y="384.8" width="8.6" height="8.4"/><rect x="242.1" y="363.0" width="8.6" height="8.4"/><rect x="267.5" y="341.8" width="8.6" height="8.4"/><rect x="293.0" y="352.7" width="8.6" height="8.4"/><rect x="318.4" y="349.0" width="8.6" height="8.4"/><rect x="343.8" y="357.6" width="8.6" height="8.4"/><rect x="369.3" y="356.3" width="8.6" height="8.4"/><rect x="394.7" y="365.3" width="8.6" height="8.4"/><rect x="420.1" y="372.8" width="8.6" height="8.4"/><rect x="445.6" y="376.8" width="8.6" height="8.4"/><rect x="471.0" y="379.2" width="8.6" height="8.4"/><rect x="496.4" y="380.6" width="8.6" height="8.4"/><rect x="521.8" y="381.3" width="8.6" height="8.4"/><rect x="547.3" y="381.8" width="8.6" height="8.4"/><rect x="572.7" y="381.8" width="8.6" height="8.4"/><rect x="598.1" y="381.8" width="8.6" height="8.4"/><rect x="623.6" y="381.8" width="8.6" height="8.4"/><rect x="649.0" y="381.8" width="8.6" height="8.4"/></g><polyline points="43.0,393.2 44.0,393.2 45.0,393.2 46.0,393.2 47.0,393.2 48.0,393.2 49.0,393.2 50.0,393.2 51.0,393.2 52.0,393.2 53.0,393.2 54.0,393.2 55.0,393.2 56.0,393.2 57.0,393.2 58.0,393.2 59.0,393.2 60.0,393.2 61.0,393.2 62.0,393.2 63.0,393.2 64.0,393.2 65.0,393.2 66.0,393.2 67.0,393.2 68.0,393.2 69.0,393.2 70.0,393.2 71.0,393.2 72.0,393.2 73.0,393.2 74.0,393.2 75.0,393.2 76.0,393.2 77.0,393.2 78.0,393.2 79.0,393.2 80.0,393.2 81.0,393.2 82.0,393.2 83.0,393.2 84.0,393.2 85.0,393.2 86.0,393.2 87.0,393.2 88.0,393.2 89.0,393.2 90.0,393.2 91.0,393.2 92.0,393.2 93.0,393.2 94.0,393.2 95.0,393.2 96.0,393.2 97.0,393.2 98.0,393.2 99.0,393.2 100.0,393.2 101.0,393.2 102.0,393.2 103.0,393.2 104.0,393.1 105.0,393.1 106.0,393.1 107.0,393.1 108.0,393.1 109.0,393.1 110.0,393.1 111.0,393.1 112.0,393.1 113.0,393.1 114.0,393.1 115.0,393.0 116.0,393.0 117.0,393.0 118.0,393.0 119.0,393.0 120.0,393.0 121.0,393.0 122.0,393.0 123.0,393.0 124.0,392.9 125.0,392.9 126.0,392.9 127.0,392.9 128.0,392.9 129.0,392.9 130.0,392.9 131.0,392.9 132.0,392.8 133.0,392.8 134.0,392.8 135.0,392.8 136.0,392.8 137.0,392.8 138.0,392.8 139.0,392.8 140.0,392.8 141.0,392.7 142.0,392.7 143.0,392.7 144.0,392.7 145.0,392.7 146.0,392.7 147.0,392.7 148.0,392.7 149.0,392.7 150.0,392.6 151.0,392.6 152.0,392.6 153.0,392.6 154.0,392.6 155.0,392.6 156.0,392.6 157.0,392.6 158.0,392.6 159.0,392.6 160.0,392.5 161.0,392.5 162.0,392.5 163.0,392.5 164.0,392.5 165.0,392.5 166.0,392.5 167.0,392.5 168.0,392.4 169.0,392.4 170.0,392.4 171.0,392.4 172.0,392.4 173.0,392.3 174.0,392.3 175.0,392.3 176.0,392.3 177.0,392.3 178.0,392.3 179.0,392.2 180.0,392.2 181.0,392.2 182.0,392.2 183.0,392.2 184.0,392.1 185.0,392.1 186.0,392.1 187.0,392.1 188.0,392.1 189.0,392.1 190.0,392.0 191.0,392.0 192.0,392.0 193.0,392.0 194.0,392.0 195.0,392.0 196.0,392.0 197.0,392.0 198.0,392.0 199.0,392.0 200.0,392.0 201.0,392.0 202.0,392.0 203.0,391.9 204.0,391.9 205.0,391.9 206.0,391.9 207.0,391.8 208.0,391.8 209.0,391.7 210.0,391.6 211.0,391.5 212.0,391.4 213.0,391.3 214.0,391.2 215.0,391.0 216.0,390.9 217.0,390.7 218.0,390.5 219.0,390.2 220.0,390.0 221.0,389.7 222.0,389.4 223.0,389.1 224.0,388.8 225.0,388.4 226.0,388.0 227.0,387.6 228.0,387.3 229.0,386.9 230.0,386.5 231.0,386.1 232.0,385.7 233.0,385.3 234.0,384.9 235.0,384.5 236.0,384.1 237.0,383.7 238.0,383.4 239.0,383.0 240.0,382.7 241.0,382.4 242.0,382.2 243.0,381.9 244.0,381.7 245.0,381.5 246.0,381.4 247.0,381.2 248.0,381.2 249.0,381.1 250.0,381.1 251.0,381.1 252.0,381.2 253.0,381.2 254.0,381.3 255.0,381.4 256.0,381.5 257.0,381.7 258.0,381.8 259.0,382.0 260.0,382.1 261.0,382.3 262.0,382.5 263.0,382.6 264.0,382.8 265.0,383.0 266.0,383.1 267.0,383.3 268.0,383.4 269.0,383.5 270.0,383.7 271.0,383.7 272.0,383.8 273.0,383.9 274.0,383.9 275.0,383.9 276.0,383.9 277.0,383.8 278.0,383.8 279.0,383.7 280.0,383.7 281.0,383.6 282.0,383.5 283.0,383.4 284.0,383.3 285.0,383.1 286.0,383.0 287.0,382.9 288.0,382.8 289.0,382.7 290.0,382.5 291.0,382.4 292.0,382.3 293.0,382.2 294.0,382.1 295.0,382.0 296.0,382.0 297.0,381.9 298.0,381.9 299.0,381.8 300.0,381.8 301.0,381.8 302.0,381.8 303.0,381.8 304.0,381.9 305.0,381.9 306.0,381.9 307.0,382.0 308.0,382.0 309.0,382.1 310.0,382.2 311.0,382.2 312.0,382.3 313.0,382.4 314.0,382.5 315.0,382.5 316.0,382.6 317.0,382.7 318.0,382.7 319.0,382.8 320.0,382.9 321.0,382.9 322.0,383.0 323.0,383.0 324.0,383.0 325.0,383.1 326.0,383.1 327.0,383.1 328.0,383.1 329.0,383.1 330.0,383.1 331.0,383.1 332.0,383.1 333.0,383.1 334.0,383.1 335.0,383.1 336.0,383.0 337.0,383.0 338.0,383.0 339.0,383.0 340.0,382.9 341.0,382.9 342.0,382.9 343.0,382.9 344.0,382.9 345.0,382.8 346.0,382.8 347.0,382.8 348.0,382.8 349.0,382.8 350.0,382.8 351.0,382.8 352.0,382.8 353.0,382.8 354.0,382.8 355.0,382.8 356.0,382.9 357.0,382.9 358.0,382.9 359.0,382.9 360.0,383.0 361.0,383.0 362.0,383.1 363.0,383.1 364.0,383.1 365.0,383.2 366.0,383.2 367.0,383.3 368.0,383.3 369.0,383.4 370.0,383.5 371.0,383.5 372.0,383.6 373.0,383.7 374.0,383.7 375.0,383.8 376.0,383.9 377.0,383.9 378.0,384.0 379.0,384.1 380.0,384.2 381.0,384.3 382.0,384.3 383.0,384.4 384.0,384.5 385.0,384.6 386.0,384.7 387.0,384.7 388.0,384.8 389.0,384.9 390.0,385.0 391.0,385.0 392.0,385.1 393.0,385.2 394.0,385.2 395.0,385.3 396.0,385.3 397.0,385.4 398.0,385.5 399.0,385.5 400.0,385.5 401.0,385.6 402.0,385.6 403.0,385.7 404.0,385.7 405.0,385.7 406.0,385.7 407.0,385.8 408.0,385.8 409.0,385.8 410.0,385.8 411.0,385.9 412.0,385.9 413.0,385.9 414.0,385.9 415.0,385.9 416.0,386.0 417.0,386.0 418.0,386.0 419.0,386.0 420.0,386.1 421.0,386.1 422.0,386.1 423.0,386.1 424.0,386.2 425.0,386.2 426.0,386.3 427.0,386.3 428.0,386.4 429.0,386.4 430.0,386.5 431.0,386.5 432.0,386.6 433.0,386.6 434.0,386.7 435.0,386.7 436.0,386.8 437.0,386.9 438.0,386.9 439.0,387.0 440.0,387.0 441.0,387.1 442.0,387.1 443.0,387.2 444.0,387.2 445.0,387.3 446.0,387.3 447.0,387.4 448.0,387.4 449.0,387.5 450.0,387.5 451.0,387.5 452.0,387.6 453.0,387.6 454.0,387.6 455.0,387.6 456.0,387.6 457.0,387.7 458.0,387.7 459.0,387.7 460.0,387.7 461.0,387.7 462.0,387.7 463.0,387.7 464.0,387.7 465.0,387.7 466.0,387.7 467.0,387.7 468.0,387.7 469.0,387.7 470.0,387.7 471.0,387.7 472.0,387.7 473.0,387.7 474.0,387.7 475.0,387.7 476.0,387.7 477.0,387.7 478.0,387.7 479.0,387.7 480.0,387.7 481.0,387.7 482.0,387.8 483.0,387.8 484.0,387.8 485.0,387.8 486.0,387.8 487.0,387.8 488.0,387.8 489.0,387.9 490.0,387.9 491.0,387.9 492.0,387.9 493.0,387.9 494.0,387.9 495.0,387.9 496.0,387.9 497.0,388.0 498.0,388.0 499.0,388.0 500.0,388.0 501.0,388.0 502.0,388.0 503.0,388.0 504.0,388.0 505.0,388.0 506.0,388.0 507.0,388.0 508.0,388.0 509.0,388.0 510.0,388.0 511.0,388.0 512.0,388.0 513.0,388.0 514.0,388.0 515.0,388.0 516.0,388.0 517.0,388.0 518.0,388.0 519.0,388.0 520.0,388.0 521.0,388.0 522.0,388.0 523.0,388.0 524.0,388.0 525.0,388.0 526.0,388.0 527.0,388.0 528.0,388.0 529.0,388.0 530.0,388.0 531.0,388.0 532.0,388.0 533.0,388.0 534.0,388.0 535.0,388.0 536.0,388.0 537.0,388.0 538.0,388.0 539.0,388.0 540.0,388.0 541.0,388.0 542.0,388.0 543.0,388.0 544.0,388.0 545.0,388.0 546.0,388.0 547.0,388.0 548.0,388.0 549.0,388.0 550.0,388.0 551.0,388.0 552.0,388.0 553.0,388.0 554.0,388.0 555.0,388.0 556.0,388.0 557.0,388.0 558.0,388.0 559.0,388.0 560.0,388.0 561.0,388.0 562.0,388.0 563.0,388.0 564.0,388.0 565.0,388.0 566.0,388.0 567.0,388.0 568.0,388.0 569.0,388.0 570.0,388.0 571.0,388.0 572.0,388.0 573.0,388.0 574.0,388.0 575.0,388.0 576.0,388.0 577.0,388.0 578.0,388.0 579.0,388.0 580.0,388.0 581.0,388.0 582.0,388.0 583.0,388.0 584.0,388.0 585.0,388.0 586.0,388.0 587.0,388.0 588.0,388.0 589.0,388.0 590.0,388.0 591.0,388.0 592.0,388.0 593.0,388.0 594.0,388.0 595.0,388.0 596.0,388.0 597.0,388.0 598.0,388.0 599.0,388.0 600.0,388.0 601.0,388.0 602.0,388.0 603.0,388.0 604.0,388.0 605.0,388.0 606.0,388.0 607.0,388.0 608.0,388.0 609.0,388.0 610.0,388.0 611.0,388.0 612.0,388.0 613.0,388.0 614.0,388.0 615.0,388.0 616.0,388.0 617.0,388.0 618.0,388.0 619.0,388.0 620.0,388.0 621.0,388.0 622.0,388.0 623.0,388.0 624.0,388.0 625.0,388.0 626.0,388.0 627.0,388.0 628.0,388.0 629.0,388.0 630.0,388.0 631.0,388.0 632.0,388.0 633.0,388.0 634.0,388.0 635.0,388.0 636.0,388.0 637.0,388.0 638.0,388.0 639.0,388.0 640.0,388.0 641.0,388.0 642.0,388.0 643.0,388.0 644.0,388.0 645.0,388.0 646.0,388.0 647.0,388.0 648.0,388.0 649.0,388.0 650.0,388.0 651.0,388.0 652.0,388.0 653.0,388.0" fill="none" stroke="#ff00ff" stroke-width="2.3" stroke-linejoin="round"/><g fill="#ff00ff"><rect x="38.7" y="389.0" width="8.6" height="8.4"/><rect x="64.1" y="389.0" width="8.6" height="8.4"/><rect x="89.5" y="389.0" width="8.6" height="8.4"/><rect x="115.0" y="388.8" width="8.6" height="8.4"/><rect x="140.4" y="388.5" width="8.6" height="8.4"/><rect x="165.8" y="388.2" width="8.6" height="8.4"/><rect x="191.2" y="387.8" width="8.6" height="8.4"/><rect x="216.7" y="385.5" width="8.6" height="8.4"/><rect x="242.1" y="377.1" width="8.6" height="8.4"/><rect x="267.5" y="379.6" width="8.6" height="8.4"/><rect x="293.0" y="377.7" width="8.6" height="8.4"/><rect x="318.4" y="378.8" width="8.6" height="8.4"/><rect x="343.8" y="378.6" width="8.6" height="8.4"/><rect x="369.3" y="379.5" width="8.6" height="8.4"/><rect x="394.7" y="381.3" width="8.6" height="8.4"/><rect x="420.1" y="382.0" width="8.6" height="8.4"/><rect x="445.6" y="383.3" width="8.6" height="8.4"/><rect x="471.0" y="383.5" width="8.6" height="8.4"/><rect x="496.4" y="383.8" width="8.6" height="8.4"/><rect x="521.8" y="383.8" width="8.6" height="8.4"/><rect x="547.3" y="383.8" width="8.6" height="8.4"/><rect x="572.7" y="383.8" width="8.6" height="8.4"/><rect x="598.1" y="383.8" width="8.6" height="8.4"/><rect x="623.6" y="383.8" width="8.6" height="8.4"/><rect x="649.0" y="383.8" width="8.6" height="8.4"/></g>
</g>
<g stroke="#000" stroke-width="2.1" fill="none">
<rect x="45.2" y="2.4" width="612.6" height="446.8"/>
<line x1="36" y1="2.5" x2="45.2" y2="2.5"/><line x1="40.5" y1="30.4" x2="45.2" y2="30.4"/><line x1="36" y1="58.4" x2="45.2" y2="58.4"/><line x1="40.5" y1="86.3" x2="45.2" y2="86.3"/><line x1="36" y1="114.2" x2="45.2" y2="114.2"/><line x1="40.5" y1="142.2" x2="45.2" y2="142.2"/><line x1="36" y1="170.1" x2="45.2" y2="170.1"/><line x1="40.5" y1="198.1" x2="45.2" y2="198.1"/><line x1="36" y1="226.0" x2="45.2" y2="226.0"/><line x1="40.5" y1="253.9" x2="45.2" y2="253.9"/><line x1="36" y1="281.9" x2="45.2" y2="281.9"/><line x1="40.5" y1="309.8" x2="45.2" y2="309.8"/><line x1="36" y1="337.8" x2="45.2" y2="337.8"/><line x1="40.5" y1="365.7" x2="45.2" y2="365.7"/><line x1="36" y1="393.6" x2="45.2" y2="393.6"/><line x1="40.5" y1="421.6" x2="45.2" y2="421.6"/><line x1="36" y1="449.5" x2="45.2" y2="449.5"/><line x1="45.3" y1="449.2" x2="45.3" y2="458.5"/><line x1="121.7" y1="449.2" x2="121.7" y2="454.3"/><line x1="198.1" y1="449.2" x2="198.1" y2="458.5"/><line x1="274.5" y1="449.2" x2="274.5" y2="454.3"/><line x1="350.9" y1="449.2" x2="350.9" y2="458.5"/><line x1="427.3" y1="449.2" x2="427.3" y2="454.3"/><line x1="503.7" y1="449.2" x2="503.7" y2="458.5"/><line x1="580.1" y1="449.2" x2="580.1" y2="454.3"/><line x1="656.5" y1="449.2" x2="656.5" y2="458.5"/>
</g>
<g class="tk"><text x="45.3" y="480.4" text-anchor="middle">9</text><text x="198.1" y="480.4" text-anchor="middle">10</text><text x="350.9" y="480.4" text-anchor="middle">11</text><text x="503.7" y="480.4" text-anchor="middle">12</text><text x="656.5" y="480.4" text-anchor="middle">13</text></g>
<rect x="504.2" y="13.2" width="135.7" height="148.8" fill="#fff" stroke="#5a5a5a" stroke-width="1.5"/><line x1="509.6" y1="29.5" x2="561.1" y2="29.5" stroke="#000000" stroke-width="2.3"/><rect x="530.75" y="25.15" width="8.7" height="8.7" fill="#000000"/><text x="566.3" y="37.4" class="lg">PVC</text><line x1="509.6" y1="57.4" x2="561.1" y2="57.4" stroke="#ff0000" stroke-width="2.3"/><rect x="530.75" y="53.05" width="8.7" height="8.7" fill="#ff0000"/><text x="566.3" y="65.3" class="lg">PVC-N<tspan dy="8.4" font-size="19">3</tspan></text><line x1="509.6" y1="94.0" x2="561.1" y2="94.0" stroke="#0000ff" stroke-width="2.3"/><rect x="530.75" y="89.65" width="8.7" height="8.7" fill="#0000ff"/><text x="566.3" y="101.9" class="lg">PVC-C</text><line x1="509.6" y1="121.4" x2="561.1" y2="121.4" stroke="#008000" stroke-width="2.3"/><rect x="530.75" y="117.05" width="8.7" height="8.7" fill="#008000"/><text x="566.3" y="129.3" class="lg">PVC-B</text><line x1="509.6" y1="148.5" x2="561.1" y2="148.5" stroke="#ff00ff" stroke-width="2.3"/><rect x="530.75" y="144.15" width="8.7" height="8.7" fill="#ff00ff"/><text x="566.3" y="156.4" class="lg">PVC-A</text>
<text class="ax" x="351.2" y="516.8" text-anchor="middle">Time (min)</text>
<text class="ay" transform="translate(16.4,208.2) rotate(-90)" text-anchor="middle">Refractive index (mV)</text>
</svg>
</body></html>
